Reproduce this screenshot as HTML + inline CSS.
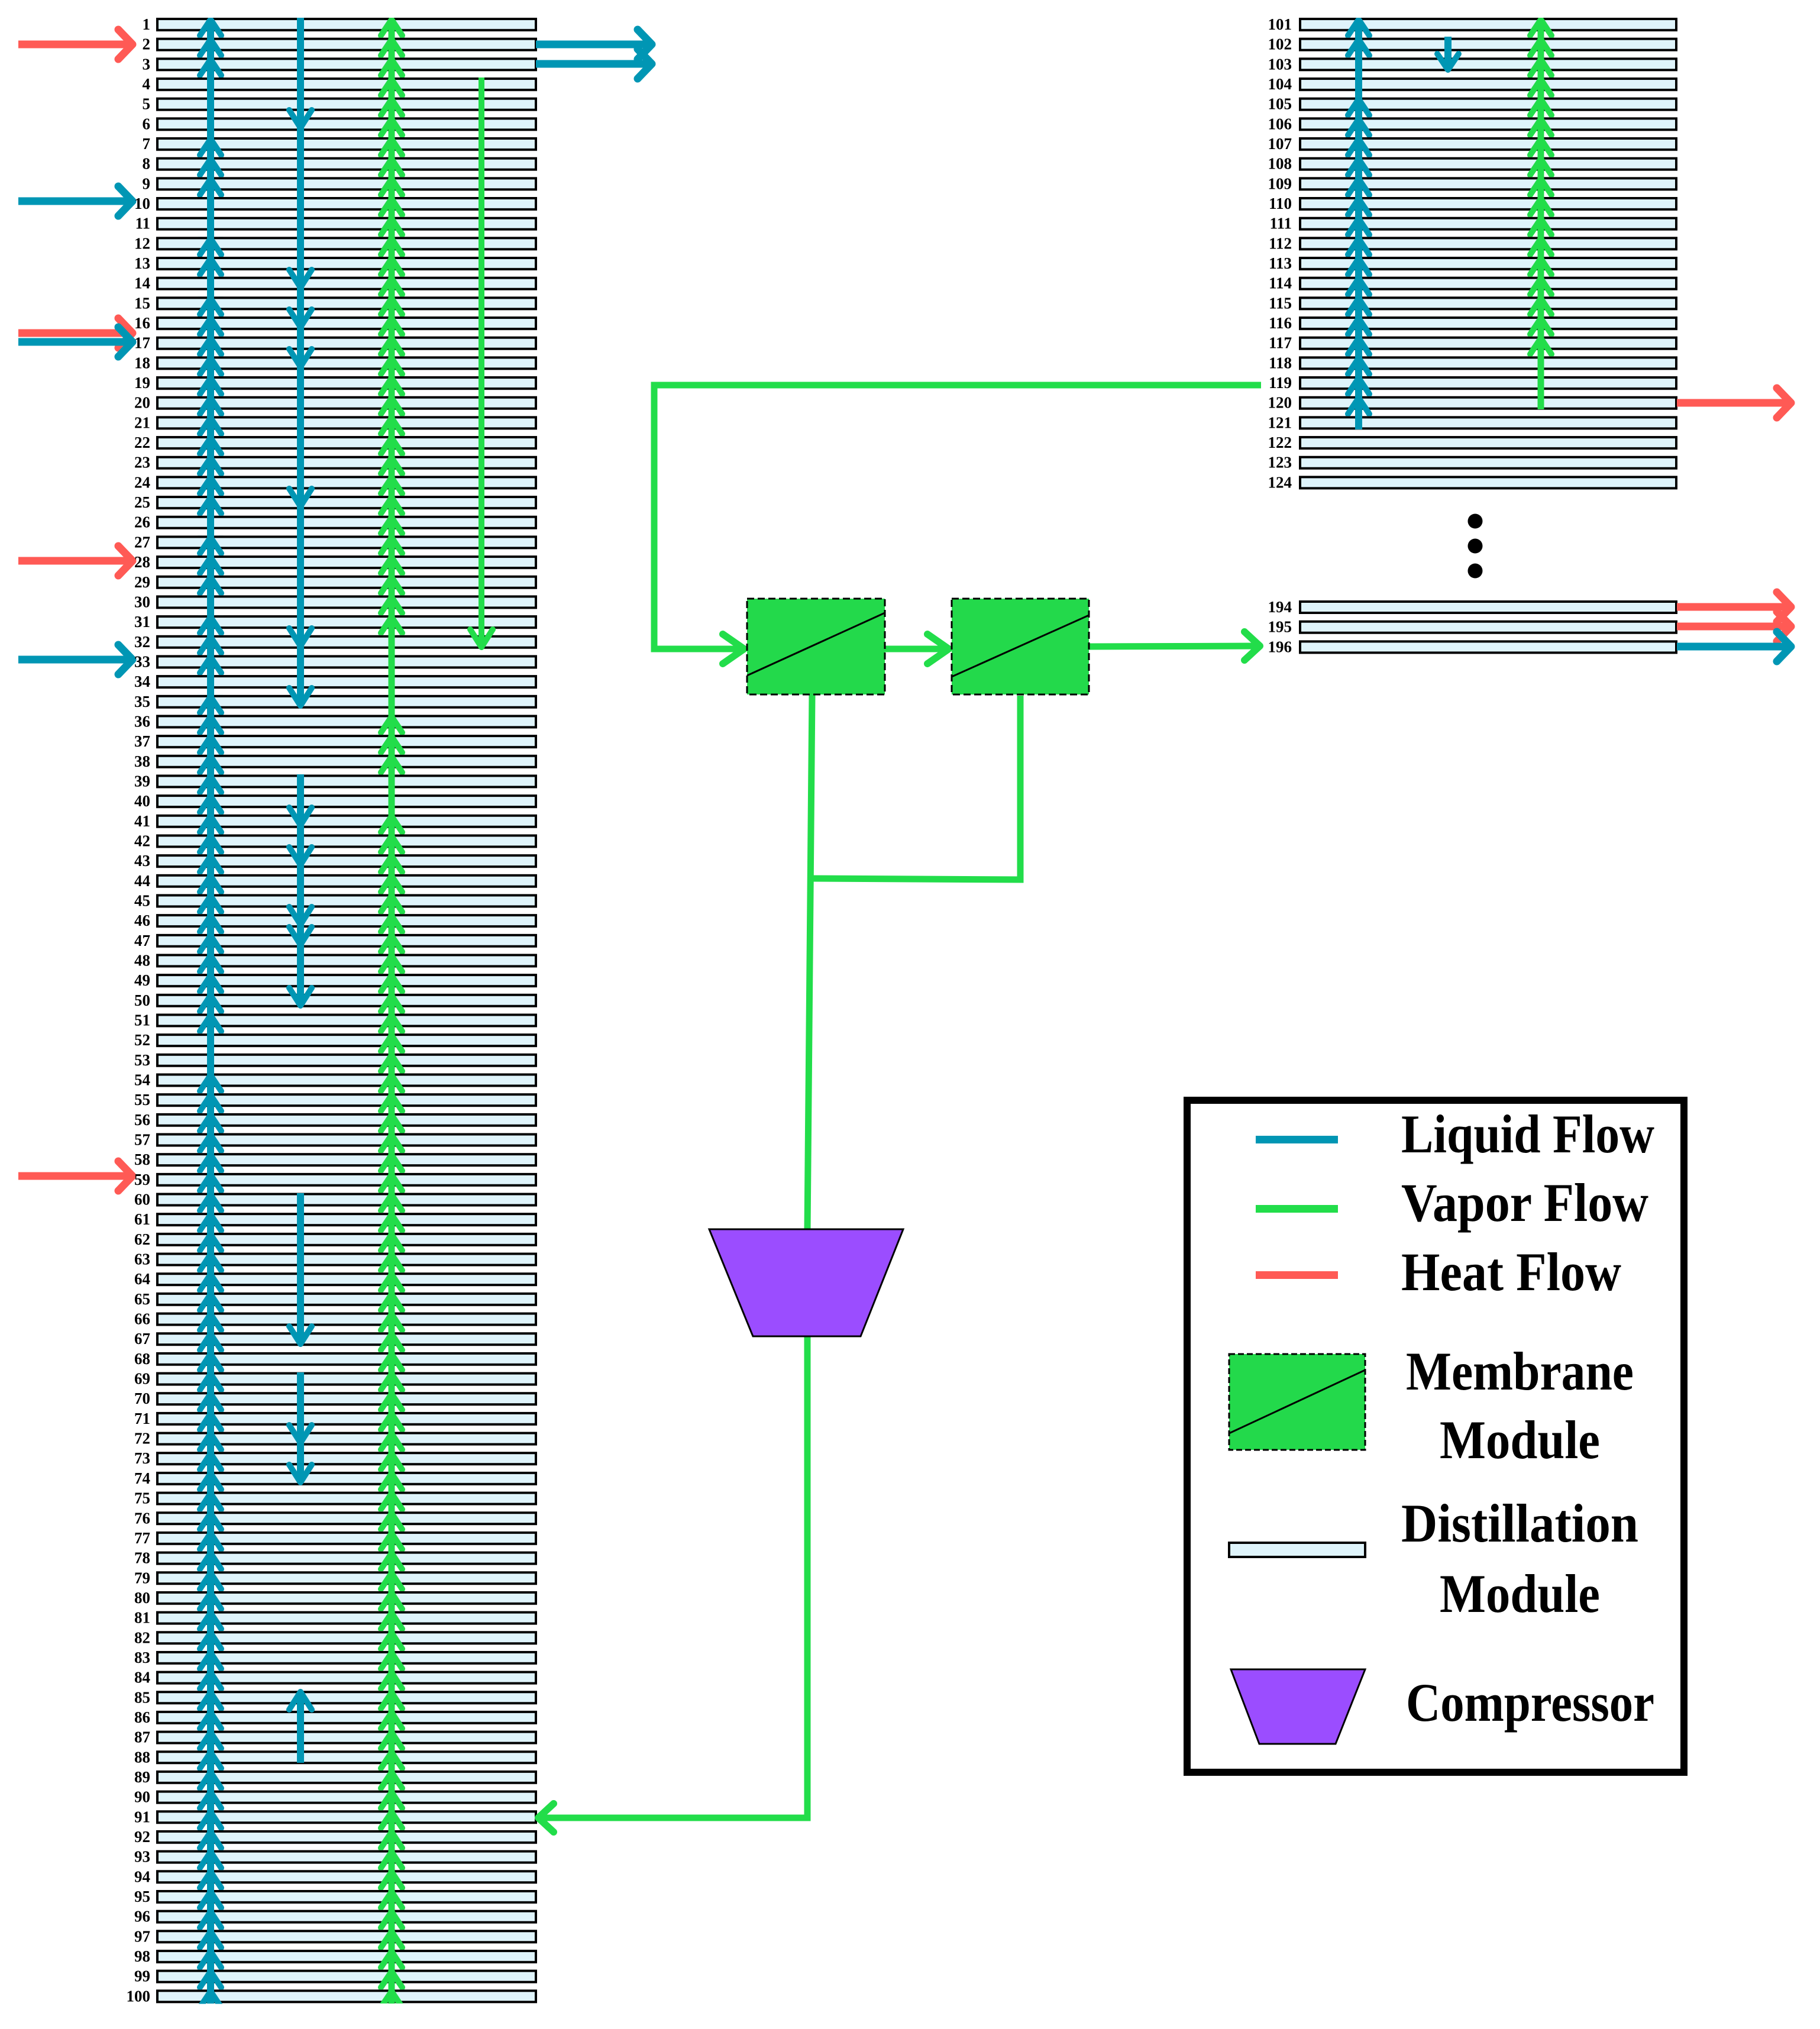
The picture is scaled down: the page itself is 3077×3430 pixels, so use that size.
<!DOCTYPE html>
<html><head><meta charset="utf-8"><style>
html,body{margin:0;padding:0;background:#fff}
svg{display:block}
.l{font-family:"Liberation Serif",serif;font-weight:bold;font-size:27px;text-anchor:end;fill:#000}
.g{font-family:"Liberation Serif",serif;font-weight:bold;font-size:92px;fill:#000}
</style></head><body>
<svg width="3077" height="3430" viewBox="0 0 3077 3430" xmlns="http://www.w3.org/2000/svg">
<defs>
<pattern id="row" patternUnits="userSpaceOnUse" x="0" y="30" width="3077" height="33.67">
<rect x="266" y="2" width="640" height="19" fill="#dff4fb" stroke="#000" stroke-width="4"/>
</pattern>
<pattern id="rowr" patternUnits="userSpaceOnUse" x="0" y="30" width="3077" height="33.67">
<rect x="2198" y="2" width="636" height="19" fill="#dff4fb" stroke="#000" stroke-width="4"/>
</pattern>
<pattern id="hb" patternUnits="userSpaceOnUse" x="0" y="30" width="60" height="33.67">
<polyline points="12,30 30,3 48,30" fill="none" stroke="#0096b4" stroke-width="10" stroke-linecap="round" stroke-linejoin="round"/>
</pattern>
<pattern id="hg" patternUnits="userSpaceOnUse" x="0" y="30" width="60" height="33.67">
<polyline points="12,30 30,3 48,30" fill="none" stroke="#22dd4a" stroke-width="10" stroke-linecap="round" stroke-linejoin="round"/>
</pattern>
</defs>

<rect x="258" y="30" width="655" height="3357" fill="url(#row)"/>
<rect x="2190" y="30" width="655" height="808" fill="url(#rowr)"/>
<rect x="2198" y="1017" width="636" height="19" fill="#dff4fb" stroke="#000" stroke-width="4"/>
<rect x="2198" y="1050.7" width="636" height="19" fill="#dff4fb" stroke="#000" stroke-width="4"/>
<rect x="2198" y="1084.4" width="636" height="19" fill="#dff4fb" stroke="#000" stroke-width="4"/>

<g stroke-linecap="butt" fill="none">
<line x1="356" y1="32" x2="356" y2="3387" stroke="#0096b4" stroke-width="12"/>
<line x1="662" y1="32" x2="662" y2="3387" stroke="#22dd4a" stroke-width="11"/>
<line x1="2297" y1="32" x2="2297" y2="726" stroke="#0096b4" stroke-width="12"/>
<line x1="2605" y1="32" x2="2605" y2="692" stroke="#22dd4a" stroke-width="11"/>
<line x1="508" y1="30" x2="508" y2="1190" stroke="#0096b4" stroke-width="12"/>
<line x1="508" y1="1309" x2="508" y2="1696" stroke="#0096b4" stroke-width="12"/>
<line x1="508" y1="2017" x2="508" y2="2268" stroke="#0096b4" stroke-width="12"/>
<line x1="508" y1="2320" x2="508" y2="2504" stroke="#0096b4" stroke-width="12"/>
<line x1="508" y1="2980" x2="508" y2="2864" stroke="#0096b4" stroke-width="12"/>
<line x1="814" y1="131" x2="814" y2="1090" stroke="#22dd4a" stroke-width="10"/>
<line x1="2448" y1="62" x2="2448" y2="114" stroke="#0096b4" stroke-width="12"/>
</g>

<g transform="translate(326,0)">
<rect x="0" y="30" width="60" height="101" fill="url(#hb)"/>
<rect x="0" y="232" width="60" height="101" fill="url(#hb)"/>
<rect x="0" y="400.4" width="60" height="67.3" fill="url(#hb)"/>
<rect x="0" y="501.4" width="60" height="370.4" fill="url(#hb)"/>
<rect x="0" y="905.4" width="60" height="101" fill="url(#hb)"/>
<rect x="0" y="1040.1" width="60" height="101" fill="url(#hb)"/>
<rect x="0" y="1174.8" width="60" height="572.4" fill="url(#hb)"/>
<rect x="0" y="1814.5" width="60" height="1573" fill="url(#hb)"/>
</g>
<g transform="translate(632,0)">
<rect x="0" y="30" width="60" height="1043.8" fill="url(#hg)"/>
<rect x="0" y="1208.5" width="60" height="101" fill="url(#hg)"/>
<rect x="0" y="1376.8" width="60" height="2010" fill="url(#hg)"/>
</g>
<g transform="translate(2267,0)">
<rect x="0" y="30" width="60" height="67.3" fill="url(#hb)"/>
<rect x="0" y="164.7" width="60" height="538.7" fill="url(#hb)"/>
</g>
<g transform="translate(2575,0)">
<rect x="0" y="30" width="60" height="572.4" fill="url(#hg)"/>
</g>

<g fill="none" stroke="#0096b4" stroke-width="10" stroke-linecap="round" stroke-linejoin="round" transform="translate(-6,0)">
<polyline points="495,186 514,216 533,186"/>
<polyline points="495,456 514,486 533,456"/>
<polyline points="495,523 514,553 533,523"/>
<polyline points="495,590 514,620 533,590"/>
<polyline points="495,826 514,856 533,826"/>
<polyline points="495,1062 514,1092 533,1062"/>
<polyline points="495,1163 514,1193 533,1163"/>
<polyline points="495,1365 514,1395 533,1365"/>
<polyline points="495,1432 514,1462 533,1432"/>
<polyline points="495,1533 514,1563 533,1533"/>
<polyline points="495,1567 514,1597 533,1567"/>
<polyline points="495,1670 514,1700 533,1670"/>
<polyline points="495,2242 514,2272 533,2242"/>
<polyline points="495,2409 514,2439 533,2409"/>
<polyline points="495,2476 514,2506 533,2476"/>
<polyline points="495,2890 514,2860 533,2890"/>
</g>
<polyline points="2430,91 2448,118 2466,91" fill="none" stroke="#0096b4" stroke-width="10" stroke-linecap="round" stroke-linejoin="round"/>
<polyline points="795,1064 814,1094 833,1064" fill="none" stroke="#22dd4a" stroke-width="10" stroke-linecap="round" stroke-linejoin="round"/>

<g fill="none" stroke-width="13" stroke-linecap="round" stroke-linejoin="round">
<g stroke="#ff5a55">
<line x1="31" y1="75" x2="222" y2="75" stroke-linecap="butt"/><polyline points="200,50 224,75 200,100"/>
<line x1="31" y1="563" x2="222" y2="563" stroke-linecap="butt"/><polyline points="200,538 224,563 200,588"/>
<line x1="31" y1="948" x2="222" y2="948" stroke-linecap="butt"/><polyline points="200,923 224,948 200,973"/>
<line x1="31" y1="1988" x2="222" y2="1988" stroke-linecap="butt"/><polyline points="200,1963 224,1988 200,2013"/>
<line x1="2835" y1="681" x2="3026" y2="681" stroke-linecap="butt"/><polyline points="3004,656 3028,681 3004,706"/>
<line x1="2835" y1="1026" x2="3026" y2="1026" stroke-linecap="butt"/><polyline points="3004,1001 3028,1026 3004,1051"/>
<line x1="2835" y1="1059" x2="3026" y2="1059" stroke-linecap="butt"/><polyline points="3004,1034 3028,1059 3004,1084"/>
</g>
<g stroke="#0096b4">
<line x1="31" y1="340" x2="222" y2="340" stroke-linecap="butt"/><polyline points="200,315 224,340 200,365"/>
<line x1="31" y1="578" x2="222" y2="578" stroke-linecap="butt"/><polyline points="200,553 224,578 200,603"/>
<line x1="31" y1="1115" x2="222" y2="1115" stroke-linecap="butt"/><polyline points="200,1090 224,1115 200,1140"/>
<line x1="906" y1="75" x2="1100" y2="75" stroke-linecap="butt"/><polyline points="1078,50 1102,75 1078,100"/>
<line x1="906" y1="108" x2="1100" y2="108" stroke-linecap="butt"/><polyline points="1078,83 1102,108 1078,133"/>
<line x1="2835" y1="1093" x2="3026" y2="1093" stroke-linecap="butt"/><polyline points="3004,1068 3028,1093 3004,1118"/>
</g>
</g>

<g fill="none" stroke="#22dd4a" stroke-width="11" stroke-linejoin="miter">
<polyline points="2132,651 1106,651 1106,1097 1256,1097"/>
<line x1="1496" y1="1097" x2="1602" y2="1097"/>
<line x1="1841" y1="1093" x2="2126" y2="1092"/>
<line x1="1373" y1="1174" x2="1365" y2="2080"/>
<polyline points="1725,1176 1725,1487 1369,1485"/>
<polyline points="1365,2257 1365,3073 912,3073"/>
<g stroke-linecap="round" stroke-linejoin="round" stroke-width="12">
<polyline points="1222,1072 1258,1097 1222,1122"/>
<polyline points="1568,1072 1604,1097 1568,1122"/>
<polyline points="2104,1068 2130,1092 2104,1116"/>
<polyline points="936,3049 910,3073 936,3097"/>
</g>
</g>

<g stroke="#000" stroke-width="3">
<rect x="1263" y="1012" width="233" height="162" fill="#23d94b" stroke-dasharray="12,6"/>
<line x1="1263" y1="1142" x2="1496" y2="1036"/>
<rect x="1609" y="1012" width="232" height="162" fill="#23d94b" stroke-dasharray="12,6"/>
<line x1="1609" y1="1144" x2="1841" y2="1040"/>
</g>
<polygon points="1199,2078 1527,2078 1455,2259 1273,2259" fill="#9b4dff" stroke="#000" stroke-width="3"/>

<circle cx="2494" cy="881" r="12.5" fill="#000"/>
<circle cx="2494" cy="923" r="12.5" fill="#000"/>
<circle cx="2494" cy="965" r="12.5" fill="#000"/>

<rect x="2007" y="1860" width="840" height="1136" fill="#fff" stroke="#000" stroke-width="12"/>
<rect x="2123" y="1920" width="139" height="13" fill="#0096b4"/>
<rect x="2123" y="2037" width="139" height="13" fill="#22dd4a"/>
<rect x="2123" y="2149" width="139" height="13" fill="#ff5a55"/>
<text class="g" x="2369" y="1948" textLength="428" lengthAdjust="spacingAndGlyphs">Liquid Flow</text>
<text class="g" x="2369" y="2064" textLength="418" lengthAdjust="spacingAndGlyphs">Vapor Flow</text>
<text class="g" x="2369" y="2181" textLength="372" lengthAdjust="spacingAndGlyphs">Heat Flow</text>
<rect x="2078" y="2289" width="230" height="162" fill="#23d94b" stroke="#000" stroke-width="3" stroke-dasharray="10,5"/>
<line x1="2078" y1="2423" x2="2308" y2="2316" stroke="#000" stroke-width="3"/>
<text class="g" x="2377" y="2349" textLength="385" lengthAdjust="spacingAndGlyphs">Membrane</text>
<text class="g" x="2434" y="2465" textLength="271" lengthAdjust="spacingAndGlyphs">Module</text>
<rect x="2078" y="2608" width="230" height="24" fill="#dff4fb" stroke="#000" stroke-width="4"/>
<text class="g" x="2369" y="2606" textLength="401" lengthAdjust="spacingAndGlyphs">Distillation</text>
<text class="g" x="2434" y="2725" textLength="271" lengthAdjust="spacingAndGlyphs">Module</text>
<polygon points="2081,2822 2308,2822 2258,2948 2129,2948" fill="#9b4dff" stroke="#000" stroke-width="3"/>
<text class="g" x="2377" y="2909" textLength="420" lengthAdjust="spacingAndGlyphs">Compressor</text>

<g class="l">
<text x="254" y="50">1</text><text x="254" y="83.7">2</text><text x="254" y="117.3">3</text><text x="254" y="151">4</text><text x="254" y="184.7">5</text>
<text x="254" y="218.4">6</text><text x="254" y="252">7</text><text x="254" y="285.7">8</text><text x="254" y="319.4">9</text><text x="254" y="353">10</text>
<text x="254" y="386.7">11</text><text x="254" y="420.4">12</text><text x="254" y="454">13</text><text x="254" y="487.7">14</text><text x="254" y="521.4">15</text>
<text x="254" y="555">16</text><text x="254" y="588.7">17</text><text x="254" y="622.4">18</text><text x="254" y="656.1">19</text><text x="254" y="689.7">20</text>
<text x="254" y="723.4">21</text><text x="254" y="757.1">22</text><text x="254" y="790.7">23</text><text x="254" y="824.4">24</text><text x="254" y="858.1">25</text>
<text x="254" y="891.7">26</text><text x="254" y="925.4">27</text><text x="254" y="959.1">28</text><text x="254" y="992.8">29</text><text x="254" y="1026.4">30</text>
<text x="254" y="1060.1">31</text><text x="254" y="1093.8">32</text><text x="254" y="1127.4">33</text><text x="254" y="1161.1">34</text><text x="254" y="1194.8">35</text>
<text x="254" y="1228.5">36</text><text x="254" y="1262.1">37</text><text x="254" y="1295.8">38</text><text x="254" y="1329.5">39</text><text x="254" y="1363.1">40</text>
<text x="254" y="1396.8">41</text><text x="254" y="1430.5">42</text><text x="254" y="1464.1">43</text><text x="254" y="1497.8">44</text><text x="254" y="1531.5">45</text>
<text x="254" y="1565.2">46</text><text x="254" y="1598.8">47</text><text x="254" y="1632.5">48</text><text x="254" y="1666.2">49</text><text x="254" y="1699.8">50</text>
<text x="254" y="1733.5">51</text><text x="254" y="1767.2">52</text><text x="254" y="1800.8">53</text><text x="254" y="1834.5">54</text><text x="254" y="1868.2">55</text>
<text x="254" y="1901.9">56</text><text x="254" y="1935.5">57</text><text x="254" y="1969.2">58</text><text x="254" y="2002.9">59</text><text x="254" y="2036.5">60</text>
<text x="254" y="2070.2">61</text><text x="254" y="2103.9">62</text><text x="254" y="2137.5">63</text><text x="254" y="2171.2">64</text><text x="254" y="2204.9">65</text>
<text x="254" y="2238.6">66</text><text x="254" y="2272.2">67</text><text x="254" y="2305.9">68</text><text x="254" y="2339.6">69</text><text x="254" y="2373.2">70</text>
<text x="254" y="2406.9">71</text><text x="254" y="2440.6">72</text><text x="254" y="2474.2">73</text><text x="254" y="2507.9">74</text><text x="254" y="2541.6">75</text>
<text x="254" y="2575.3">76</text><text x="254" y="2608.9">77</text><text x="254" y="2642.6">78</text><text x="254" y="2676.3">79</text><text x="254" y="2709.9">80</text>
<text x="254" y="2743.6">81</text><text x="254" y="2777.3">82</text><text x="254" y="2810.9">83</text><text x="254" y="2844.6">84</text><text x="254" y="2878.3">85</text>
<text x="254" y="2912">86</text><text x="254" y="2945.6">87</text><text x="254" y="2979.3">88</text><text x="254" y="3013">89</text><text x="254" y="3046.6">90</text>
<text x="254" y="3080.3">91</text><text x="254" y="3114">92</text><text x="254" y="3147.6">93</text><text x="254" y="3181.3">94</text><text x="254" y="3215">95</text>
<text x="254" y="3248.7">96</text><text x="254" y="3282.3">97</text><text x="254" y="3316">98</text><text x="254" y="3349.7">99</text><text x="254" y="3383.3">100</text>
</g>
<g class="l">
<text x="2184" y="50">101</text><text x="2184" y="83.7">102</text><text x="2184" y="117.3">103</text><text x="2184" y="151">104</text><text x="2184" y="184.7">105</text>
<text x="2184" y="218.4">106</text><text x="2184" y="252">107</text><text x="2184" y="285.7">108</text><text x="2184" y="319.4">109</text><text x="2184" y="353">110</text>
<text x="2184" y="386.7">111</text><text x="2184" y="420.4">112</text><text x="2184" y="454">113</text><text x="2184" y="487.7">114</text><text x="2184" y="521.4">115</text>
<text x="2184" y="555">116</text><text x="2184" y="588.7">117</text><text x="2184" y="622.4">118</text><text x="2184" y="656.1">119</text><text x="2184" y="689.7">120</text>
<text x="2184" y="723.4">121</text><text x="2184" y="757.1">122</text><text x="2184" y="790.7">123</text><text x="2184" y="824.4">124</text>
<text x="2184" y="1035">194</text><text x="2184" y="1068.7">195</text><text x="2184" y="1102.4">196</text>
</g>
</svg>
</body></html>
